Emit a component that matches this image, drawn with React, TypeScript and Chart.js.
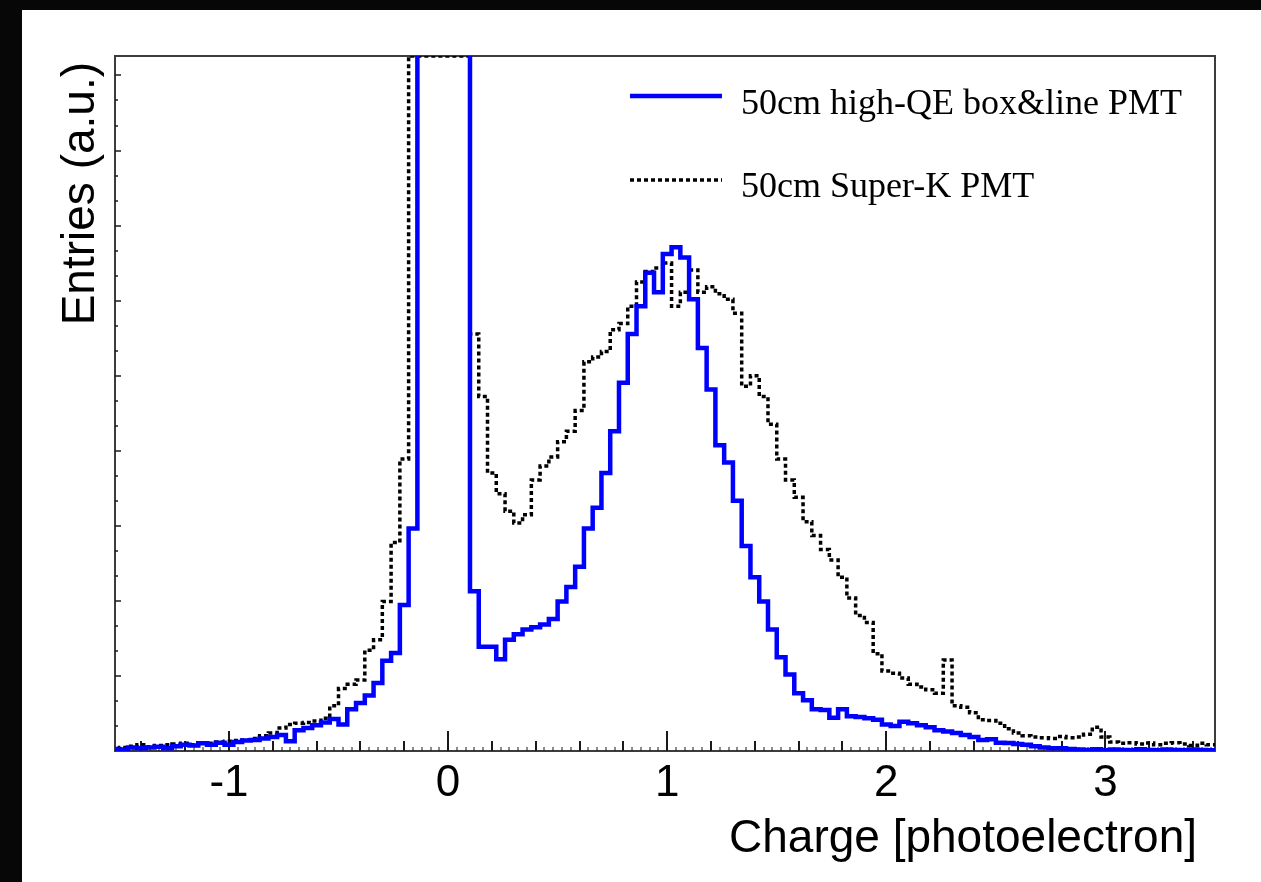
import React, { useEffect, useRef } from 'react';
import { Chart, registerables } from 'chart.js';

Chart.register(...registerables);

// ---- data ----
const X_MIN = -1.52;
const X_MAX = 3.5;
const BIN_START = -1.54;
const BIN_WIDTH = 0.04;
const X_TICKS = [-1, 0, 1, 2, 3];
const SERIES_LABELS = ['50cm high-QE box&line PMT', '50cm Super-K PMT'];
const X_TITLE = 'Charge [photoelectron]';
const Y_TITLE = 'Entries (a.u.)';

// 50cm high-QE box&line PMT (bin contents, a.u.; 160 = off scale)
const HIGH_QE = [
  0.3, 0.2, 0.5, 0.4, 0.5, 0.6, 0.4, 0.7, 0.9, 0.8,
  1.1, 0.9, 1.2, 0.9, 1.3, 1.5, 1.6, 1.8, 2.0, 2.3,
  1.4, 3.0, 3.3, 3.7, 4.1, 4.6, 3.8, 6.0, 6.9, 8.0,
  9.8, 13.0, 14.1, 21, 32, 160, 160, 160, 160, 160,
  160, 23, 15, 15, 13.2, 16, 16.8, 17.5, 17.8, 18.2,
  19.0, 21.5, 23.6, 26.5, 32, 35, 40, 46, 53, 60,
  64, 68.8, 66, 71.5, 72.5, 71, 65, 58, 52, 44,
  41.5, 36, 29.5, 25, 21.5, 17.5, 13.5, 11, 8.3, 7.3,
  6.0, 5.9, 4.8, 6.0, 5.0, 4.9, 4.7, 4.5, 3.8, 3.6,
  4.2, 4.0, 3.7, 3.4, 3.0, 2.8, 2.6, 2.3, 2.0, 1.6,
  1.7, 1.2, 1.15, 1.0, 0.9, 0.7, 0.5, 0.4, 0.4, 0.3,
  0.2, 0.15, 0.25, 0.1, 0.2, 0.15, 0.1, 0.25, 0.15, 0.1,
  0.2, 0.15, 0.1, 0.2, 0.15, 0.1,
];

// 50cm Super-K PMT (bin contents, a.u.; 100 = at frame top)
const SUPER_K = [
  0.3, 0.5, 0.7, 0.9, 0.6, 0.8, 0.9, 1.0, 1.1, 0.9,
  1.2, 1.1, 1.3, 1.4, 1.5, 1.6, 1.8, 2.2, 2.6, 3.3,
  3.8, 4.0, 4.1, 4.3, 4.7, 6.5, 9.0, 9.6, 10.2, 14.5,
  16, 21.5, 30, 42, 100, 100, 100, 100, 100, 100,
  100, 60, 51, 40, 37, 34.5, 32.8, 34, 39, 41,
  42.3, 44.5, 46, 49, 56, 56.7, 57.5, 60.6, 61.5, 64,
  67.5, 69, 69.5, 70.2, 64, 66, 69.2, 66, 66.8, 65.8,
  65, 63, 52.5, 54, 51, 47, 42, 39, 36.5, 33,
  31, 29, 27.5, 25, 22, 19.5, 18.5, 14, 11.5, 11.2,
  10.5, 9.6, 9.2, 8.8, 8.3, 13.1, 6.5, 6.3, 5.5, 4.5,
  4.4, 4.0, 3.2, 2.6, 2.2, 2.0, 1.9, 1.8, 2.1, 1.9,
  2.0, 2.4, 3.4, 2.0, 1.3, 1.1, 1.2, 1.0, 1.15, 0.9,
  1.1, 1.2, 1.0, 0.8, 1.1, 0.9,
];

const PANEL_W = 1239;
const PANEL_H = 872;

function toPoints(vals: number[]) {
  const pts = vals.map((v, i) => ({ x: BIN_START + i * BIN_WIDTH, y: v }));
  pts.push({ x: BIN_START + vals.length * BIN_WIDTH, y: vals[vals.length - 1] });
  return pts;
}

const rootStylePlugin = {
  id: 'rootStyle',
  beforeDatasetsDraw(chart: any) {
    const { ctx, chartArea: a } = chart;
    const xs = chart.scales.x;
    const ys = chart.scales.y;
    ctx.save();
    // frame
    ctx.strokeStyle = '#3c3c3c';
    ctx.lineWidth = 2;
    ctx.strokeRect(a.left, a.top, a.right - a.left, a.bottom - a.top);
    // x ticks (inward)
    ctx.strokeStyle = '#1a1a1a';
    for (let k = -38; k <= 88; k++) {
      const v = k * 0.04;
      if (v <= xs.min + 1e-6 || v >= xs.max - 1e-6) continue;
      const px = Math.round(xs.getPixelForValue(v));
      let len = 4;
      let lw = 1;
      if (k % 25 === 0) { len = 20; lw = 2; }
      else if (k % 5 === 0) { len = 10; lw = 2; }
      ctx.lineWidth = lw;
      ctx.beginPath();
      ctx.moveTo(px, a.bottom);
      ctx.lineTo(px, a.bottom - len);
      ctx.stroke();
    }
    // y ticks (inward, small)
    ctx.lineWidth = 1.5;
    let n = 0;
    for (let v = 3.6; v < ys.max; v += 3.6) {
      n++;
      const py = Math.round(ys.getPixelForValue(v));
      const len = n % 3 === 0 ? 6 : 3;
      ctx.beginPath();
      ctx.moveTo(a.left, py);
      ctx.lineTo(a.left + len, py);
      ctx.stroke();
    }
    ctx.restore();
  },
  afterDraw(chart: any) {
    const { ctx } = chart;
    ctx.save();
    ctx.fillStyle = '#000';
    // x title
    ctx.font = '46px "Liberation Sans", Arial, sans-serif';
    ctx.textAlign = 'right';
    ctx.textBaseline = 'alphabetic';
    ctx.fillText(X_TITLE, 1175, 842);
    // y title
    ctx.save();
    ctx.translate(72, 52);
    ctx.rotate(-Math.PI / 2);
    ctx.textAlign = 'right';
    ctx.fillText(Y_TITLE, 0, 0);
    ctx.restore();
    // legend
    const ds = chart.data.datasets;
    const rows = [
      { lineY: 86, textY: 104 },
      { lineY: 170, textY: 187 },
    ];
    ctx.font = '36px "Liberation Serif", "Times New Roman", serif';
    ctx.textAlign = 'left';
    ds.forEach((d: any, i: number) => {
      const r = rows[i];
      ctx.save();
      ctx.strokeStyle = d.borderColor;
      ctx.lineWidth = d.borderWidth;
      ctx.setLineDash(d.borderDash || []);
      ctx.beginPath();
      ctx.moveTo(608, r.lineY);
      ctx.lineTo(700, r.lineY);
      ctx.stroke();
      ctx.restore();
      ctx.fillText(d.label, 719, r.textY);
    });
    ctx.restore();
  },
};

export default function App() {
  const ref = useRef<HTMLCanvasElement>(null);
  useEffect(() => {
    const canvas = ref.current;
    if (!canvas) return;
    const chart = new Chart(canvas, {
      type: 'line',
      data: {
        datasets: [
          {
            label: SERIES_LABELS[0],
            data: toPoints(HIGH_QE),
            borderColor: '#0000ff',
            borderWidth: 4.5,
            stepped: true,
            pointRadius: 0,
            fill: false,
          },
          {
            label: SERIES_LABELS[1],
            data: toPoints(SUPER_K),
            borderColor: '#000000',
            borderWidth: 3.5,
            borderDash: [4, 3],
            stepped: true,
            pointRadius: 0,
            fill: false,
          },
        ],
      },
      options: {
        animation: false,
        responsive: false,
        devicePixelRatio: 1,
        layout: { padding: { left: 93, right: 46, top: 46, bottom: 0 } },
        plugins: { legend: { display: false }, tooltip: { enabled: false }, title: { display: false } },
        scales: {
          x: {
            type: 'linear',
            min: X_MIN,
            max: X_MAX,
            grid: { display: false, drawTicks: false },
            border: { display: false },
            ticks: {
              includeBounds: false,
              autoSkip: false,
              maxRotation: 0,
              color: '#000',
              padding: 6,
              font: { family: '"Liberation Sans", Arial, sans-serif', size: 44 },
            },
            afterBuildTicks: (s: any) => {
              s.ticks = X_TICKS.map((v) => ({ value: v }));
            },
            afterFit: (s: any) => {
              s.height = 131;
            },
          },
          y: { display: false, min: 0, max: 100 },
        },
      },
      plugins: [rootStylePlugin],
    } as any);
    return () => chart.destroy();
  }, []);

  return (
    <div style={{ position: 'fixed', inset: 0, background: '#070707' }}>
      <div
        style={{
          position: 'absolute',
          left: 22,
          top: 10,
          width: PANEL_W,
          height: PANEL_H,
          background: '#fff',
        }}
      >
        <canvas
          ref={ref}
          width={PANEL_W}
          height={PANEL_H}
          style={{ display: 'block', width: PANEL_W, height: PANEL_H }}
        />
      </div>
    </div>
  );
}
